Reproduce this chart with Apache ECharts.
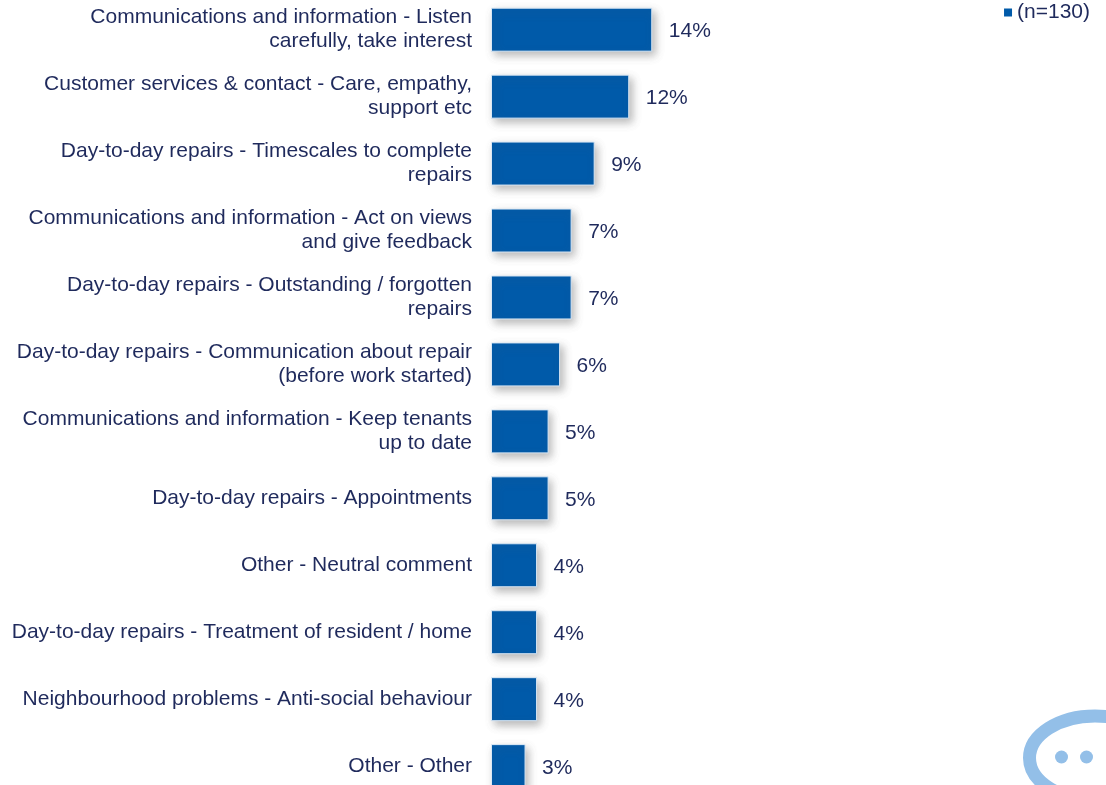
<!DOCTYPE html>
<html>
<head>
<meta charset="utf-8">
<style>html,body{margin:0;padding:0;background:#fff}#chart{width:1106px;height:785px}</style>
<script src="https://cdn.jsdelivr.net/npm/echarts@6/dist/echarts.min.js"></script>
</head>
<body>
<div id="chart"></div>
<script>
// Most common improvement themes among respondents
const categories = [
  'Communications and information - Listen\ncarefully, take interest',
  'Customer services & contact - Care, empathy,\nsupport etc',
  'Day-to-day repairs - Timescales to complete\nrepairs',
  'Communications and information - Act on views\nand give feedback',
  'Day-to-day repairs - Outstanding / forgotten\nrepairs',
  'Day-to-day repairs - Communication about repair\n(before work started)',
  'Communications and information - Keep tenants\nup to date',
  'Day-to-day repairs - Appointments',
  'Other - Neutral comment',
  'Day-to-day repairs - Treatment of resident / home',
  'Neighbourhood problems - Anti-social behaviour',
  'Other - Other'
];
const percentages = [14, 12, 9, 7, 7, 6, 5, 5, 4, 4, 4, 3];
const seriesName = '(n=130)';

const FONT = '"Liberation Sans", Arial, sans-serif';
const INK = '#1f2a5c';
const BLUE = '#005aa9';
const BUBBLE = '#93bfe8';

const chart = echarts.init(document.getElementById('chart'), null, { renderer: 'canvas' });
chart.setOption({
  animation: false,
  backgroundColor: '#fff',
  legend: {
    top: 0, right: 16,
    itemWidth: 8, itemHeight: 8, itemGap: 6,
    padding: [2, 0, 0, 0],
    icon: 'rect',
    itemStyle: { borderWidth: 0, shadowBlur: 0, shadowOffsetX: 0, shadowOffsetY: 0 },
    textStyle: { fontFamily: FONT, fontSize: 21, color: INK },
    data: [seriesName]
  },
  grid: { left: 491, top: -3.8, width: 576, height: 803.4, outerBoundsMode: 'none' },
  xAxis: { type: 'value', min: 0, max: 50, show: false },
  yAxis: {
    type: 'category',
    inverse: true,
    data: categories,
    axisLine: { show: false },
    axisTick: { show: false },
    axisLabel: {
      margin: 19, align: 'right', interval: 0,
      padding: [4, 0, 0, 0],
      fontFamily: FONT, fontSize: 21, lineHeight: 24, color: INK
    }
  },
  series: [{
    name: seriesName,
    type: 'bar',
    data: percentages,
    barWidth: 44,
    itemStyle: {
      color: BLUE,
      borderColor: '#dbe8f5',
      borderWidth: 1,
      shadowColor: 'rgba(90,90,90,0.42)',
      shadowBlur: 8,
      shadowOffsetX: 3,
      shadowOffsetY: 4
    },
    label: {
      show: true, position: 'right', distance: 16.5, offset: [0, 2],
      formatter: '{c}%',
      fontFamily: FONT, fontSize: 21, color: INK
    }
  }],
  // Speech-bubble brand mark, cut off by the page corner
  graphic: [
    { type: 'ellipse', shape: { cx: 1095, cy: 758, rx: 65.5, ry: 42 },
      style: { fill: 'none', stroke: BUBBLE, lineWidth: 13 } },
    { type: 'circle', shape: { cx: 1061.5, cy: 757, r: 6.5 }, style: { fill: BUBBLE } },
    { type: 'circle', shape: { cx: 1086.5, cy: 757, r: 6.5 }, style: { fill: BUBBLE } }
  ]
});
</script>
</body>
</html>
